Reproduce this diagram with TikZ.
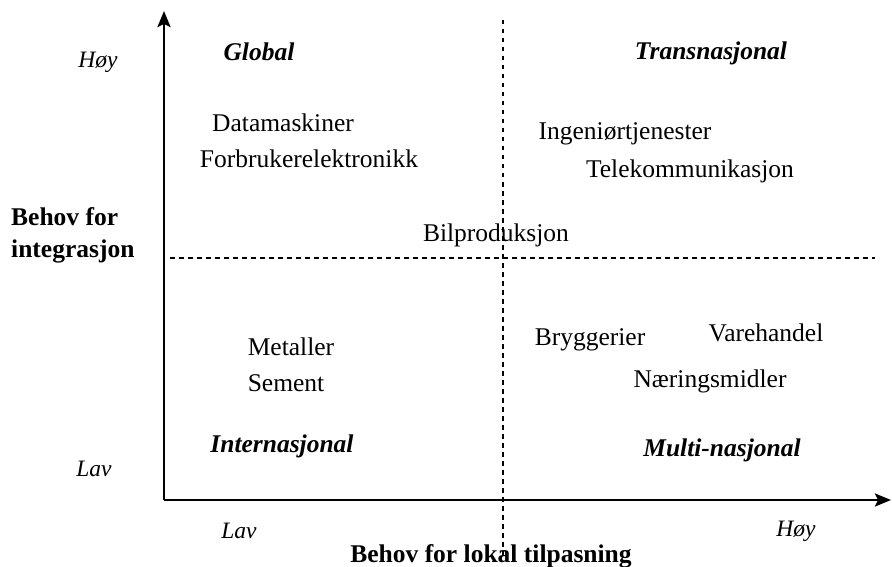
\documentclass[tikz,border=0pt]{standalone}
\usepackage{fontspec}
\setmainfont{Liberation Serif}
\usetikzlibrary{arrows.meta}
\begin{document}
\begin{tikzpicture}[x=1pt,y=-1pt,
  lbl/.style={inner sep=0pt,font=\fontsize{25.5}{30}\selectfont},
  quad/.style={inner sep=0pt,font=\fontsize{25.5}{30}\selectfont\bfseries\itshape},
  lvl/.style={inner sep=0pt,font=\fontsize{23.5}{28}\selectfont\itshape},
  ax/.style={line width=2.4pt,-{Stealth[length=16pt,width=13pt,inset=3pt]}},
  dsh/.style={line width=1.1pt,dash pattern=on 4.5pt off 4.5pt}]
\useasboundingbox (0,0) rectangle (892,567);
% axes
\coordinate (o) at (164,500);
\coordinate (ytop) at (164,11);
\coordinate (xend) at (891,500);
\draw[ax] (o) -- (ytop);
\draw[ax] (o) -- (xend);
% dashed dividers
\coordinate (vt) at (503,20);
\coordinate (vb) at (503,556);
\coordinate (hl) at (170,258);
\coordinate (hr) at (875,258);
\draw[dsh] (vt) -- (vb);
\draw[dsh] (hl) -- (hr);
% axis labels
\node[lvl] (hoyy) at (98,62) {Høy};
\node[lvl] (lavy) at (94,469) {Lav};
\node[lvl] (lavx) at (239,531) {Lav};
\node[lvl] (hoyx) at (796,531) {Høy};
\node[lbl,font=\fontsize{25.5}{32}\selectfont\bfseries,align=left,anchor=west] (ylab) at (11,235) {Behov for\\integrasjon};
\node[lbl,font=\fontsize{25.5}{30}\selectfont\bfseries] (xlab) at (491,556) {Behov for lokal tilpasning};
% quadrant titles
\node[quad] (glob) at (259,52) {Global};
\node[quad] (trans) at (711,53) {Transnasjonal};
\node[quad] (inter) at (282,446) {Internasjonal};
\node[quad] (multi) at (722,450) {Multi-nasjonal};
% industries
\node[lbl] (data) at (283,123) {Datamaskiner};
\node[lbl] (forb) at (309,159) {Forbrukerelektronikk};
\node[lbl] (ing) at (625,134) {Ingeniørtjenester};
\node[lbl] (tele) at (690,171) {Telekommunikasjon};
\node[lbl] (bil) at (496,235) {Bilproduksjon};
\node[lbl] (met) at (291,347) {Metaller};
\node[lbl] (sem) at (286,383) {Sement};
\node[lbl] (bryg) at (590,340) {Bryggerier};
\node[lbl] (vare) at (766,333) {Varehandel};
\node[lbl] (naer) at (710,381) {Næringsmidler};
\end{tikzpicture}
\end{document}
